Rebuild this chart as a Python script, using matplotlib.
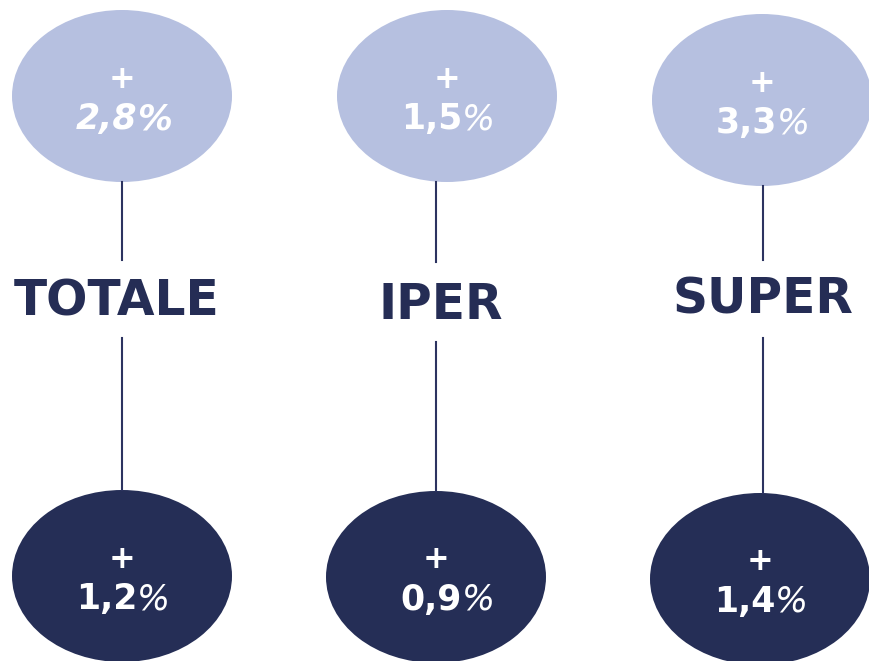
import matplotlib
matplotlib.use("Agg")
import matplotlib.pyplot as plt
from matplotlib.patches import Ellipse

# ---- data ----
categories = ["TOTALE", "IPER", "SUPER"]
top_values = ["2,8", "1,5", "3,3"]
bottom_values = ["1,2", "0,9", "1,4"]
top_italic = [True, False, False]

# ---- layout ----
W, H = 869, 661
fig = plt.figure(figsize=(W / 100, H / 100), dpi=100)
ax = fig.add_axes([0, 0, 1, 1])
ax.set_xlim(0, W)
ax.set_ylim(H, 0)
ax.axis("off")

light = "#B6C0E0"
dark = "#252E56"
line_c = "#2C3360"
text_dark = "#252D55"

top_cx = [122, 447, 762]
top_cy = [96, 96, 100]
bot_cx = [122, 436, 760]
bot_cy = [576, 577, 579]
bot_num_shift = [0, 11, 0]
lab_x = [117, 441, 763]
lab_y = [302, 305, 300]
line_x = [122, 436, 763]
line_seg1 = [(182, 260), (182, 262), (186, 260)]
line_seg2 = [(338, 490), (342, 491), (338, 493)]
ew, eh = 220, 172


def pct_text(cx, cy, val, italic_all, shift=0):
    ax.text(cx, cy - 17, "+", ha="center", va="center", color="white",
            fontsize=23, fontweight="bold", family="DejaVu Sans")
    style = "italic" if italic_all else "normal"
    x = cx + shift + 15
    ax.text(x, cy + 23, val, ha="right", va="center", color="white",
            fontsize=25, fontweight="bold", fontstyle=style, family="DejaVu Sans")
    ax.text(x, cy + 23, "%", ha="left", va="center", color="white",
            fontsize=25, fontweight="bold" if italic_all else "normal",
            fontstyle="italic", family="DejaVu Sans")


for i, cat in enumerate(categories):
    for (y0, y1) in (line_seg1[i], line_seg2[i]):
        ax.plot([line_x[i], line_x[i]], [y0, y1], color=line_c, lw=1.5)
    ax.add_patch(Ellipse((top_cx[i], top_cy[i]), ew, eh, facecolor=light, edgecolor="none"))
    ax.add_patch(Ellipse((bot_cx[i], bot_cy[i]), ew, eh, facecolor=dark, edgecolor="none"))
    pct_text(top_cx[i], top_cy[i], top_values[i], top_italic[i])
    pct_text(bot_cx[i], bot_cy[i], bottom_values[i], False, bot_num_shift[i])
    ax.text(lab_x[i], lab_y[i], cat, ha="center", va="center", color=text_dark,
            fontsize=35, fontweight="bold", family="DejaVu Sans")

fig.savefig("out.png", dpi=100)
